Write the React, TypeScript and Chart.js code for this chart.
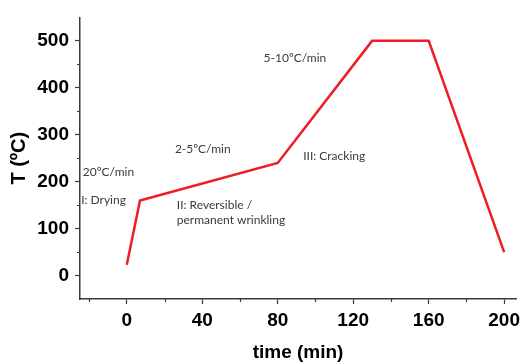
import React, { useEffect, useRef } from "react";
import { Chart, registerables } from "chart.js";

Chart.register(...registerables);

// Heating schedule: time (min) vs. temperature (°C)
const timeMin = [0, 7, 80, 130, 160, 200];
const tempC = [23, 160, 240, 500, 500, 50];

// Axis ticks
const xMajorTicks = [0, 40, 80, 120, 160, 200];
const xMinorTicks = [-20, 20, 60, 100, 140, 180];
const yMajorTicks = [0, 100, 200, 300, 400, 500];
const yMinorTicks = [50, 150, 250, 350, 450];

// Stage notes, anchored in axis units (left edge, vertical centre)
const noteTexts = [
  "20ºC/min",
  "I: Drying",
  "2-5ºC/min",
  "II: Reversible /",
  "permanent wrinkling",
  "III: Cracking",
  "5-10ºC/min",
];
const noteTimes = [-23.3, -24.2, 25.5, 26.5, 26.5, 93.5, 72.5];
const noteTemps = [220, 160, 270, 151, 118, 255, 464];

const AXIS_COLOR = "#3a3a3a";
const LINE_COLOR = "#ee1c24";

const minorTicksPlugin = {
  id: "minorTicks",
  afterDraw(chart: any) {
    const { ctx, scales } = chart;
    const x = scales.x;
    const y = scales.y;
    ctx.save();
    ctx.strokeStyle = AXIS_COLOR;
    ctx.lineWidth = 1.2;
    ctx.beginPath();
    xMinorTicks.forEach((v) => {
      const px = Math.round(x.getPixelForValue(v)) + 0.5;
      ctx.moveTo(px, x.top);
      ctx.lineTo(px, x.top + 3);
    });
    yMinorTicks.forEach((v) => {
      const py = Math.round(y.getPixelForValue(v)) + 0.5;
      ctx.moveTo(y.right, py);
      ctx.lineTo(y.right - 3, py);
    });
    ctx.stroke();
    ctx.restore();
  },
};

const notesPlugin = {
  id: "stageNotes",
  afterDatasetsDraw(chart: any) {
    const { ctx, scales } = chart;
    ctx.save();
    ctx.fillStyle = "#3a3a3a";
    ctx.font = "12px Lato, 'Open Sans', sans-serif";
    ctx.textAlign = "left";
    ctx.textBaseline = "middle";
    noteTexts.forEach((t, i) => {
      ctx.fillText(
        t,
        scales.x.getPixelForValue(noteTimes[i]),
        scales.y.getPixelForValue(noteTemps[i])
      );
    });
    ctx.restore();
  },
};

export default function App() {
  const canvasRef = useRef<HTMLCanvasElement | null>(null);

  useEffect(() => {
    document.body.style.margin = "0";
    const canvas = canvasRef.current;
    if (!canvas) return;

    const chart = new Chart(canvas, {
      type: "line",
      data: {
        datasets: [
          {
            data: timeMin.map((t, i) => ({ x: t, y: tempC[i] })),
            borderColor: LINE_COLOR,
            borderWidth: 2.5,
            pointRadius: 0,
            tension: 0,
            fill: false,
          },
        ],
      },
      options: {
        animation: false,
        responsive: false,
        maintainAspectRatio: false,
        layout: { padding: { top: 15, right: 0, left: 0, bottom: 0 } },
        plugins: {
          legend: { display: false },
          tooltip: { enabled: false },
        },
        scales: {
          x: {
            type: "linear",
            min: -24.8,
            max: 206.3,
            afterBuildTicks: (scale: any) => {
              scale.ticks = xMajorTicks.map((v) => ({ value: v }));
            },
            afterFit: (scale: any) => {
              scale.height = 65;
            },
            grid: {
              drawOnChartArea: false,
              drawTicks: true,
              tickLength: 5,
              tickColor: AXIS_COLOR,
              tickWidth: 1.2,
            },
            border: { display: true, color: AXIS_COLOR, width: 1.5 },
            ticks: {
              color: "#000",
              padding: 5,
              maxRotation: 0,
              autoSkip: false,
              font: { family: "Arial, 'Liberation Sans', sans-serif", size: 19, weight: "bold" },
            },
            title: {
              display: true,
              text: "time (min)",
              color: "#000",
              padding: { top: 0, bottom: 0 },
              font: { family: "Arial, 'Liberation Sans', sans-serif", size: 19, weight: "bold" },
            },
          },
          y: {
            type: "linear",
            min: -50,
            max: 550,
            afterBuildTicks: (scale: any) => {
              scale.ticks = yMajorTicks.map((v) => ({ value: v }));
            },
            afterFit: (scale: any) => {
              scale.width = 80;
            },
            grid: {
              drawOnChartArea: false,
              drawTicks: true,
              tickLength: 5,
              tickColor: AXIS_COLOR,
              tickWidth: 1.2,
            },
            border: { display: true, color: AXIS_COLOR, width: 1.5 },
            ticks: {
              color: "#000",
              padding: 6,
              autoSkip: false,
              font: { family: "Arial, 'Liberation Sans', sans-serif", size: 19, weight: "bold" },
            },
            title: {
              display: true,
              text: "T (ºC)",
              color: "#000",
              padding: { top: 7, bottom: 0 },
              font: { family: "Arial, 'Liberation Sans', sans-serif", size: 20, weight: "bold" },
            },
          },
        },
      },
      plugins: [minorTicksPlugin, notesPlugin],
    } as any);

    return () => chart.destroy();
  }, []);

  return (
    <div style={{ width: 525, height: 364, background: "#fff" }}>
      <canvas ref={canvasRef} width={525} height={364} style={{ display: "block" }} />
    </div>
  );
}
